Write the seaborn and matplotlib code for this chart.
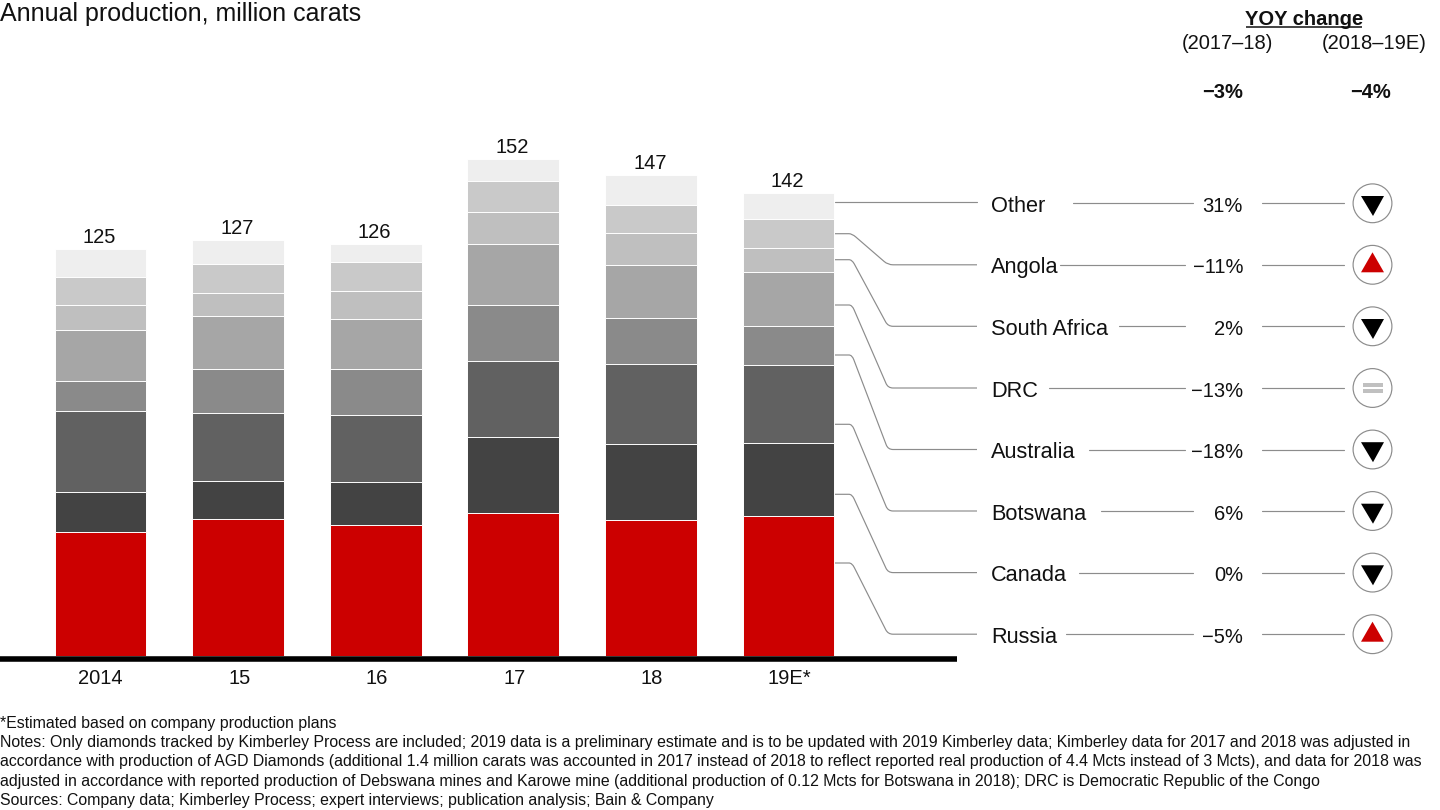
import matplotlib
matplotlib.use("Agg")
import matplotlib.pyplot as plt
from matplotlib.patches import Circle, Polygon, Rectangle, PathPatch
from matplotlib.path import Path
from matplotlib.transforms import ScaledTranslation
import numpy as np
import seaborn as sns

years = ["2014", "15", "16", "17", "18", "19E*"]
totals = [125, 127, 126, 152, 147, 142]
russia = [38.0, 41.8, 40.0, 43.7, 41.6, 42.6]
canada = [12.2, 11.7, 13.2, 23.4, 23.3, 22.6]
botswana = [24.7, 20.8, 20.5, 23.1, 24.4, 23.7]
australia = [9.3, 13.6, 14.0, 17.1, 14.0, 12.2]
drc = [15.6, 16.0, 15.5, 18.9, 16.5, 16.5]
south_africa = [7.5, 7.3, 8.4, 9.8, 9.8, 7.4]
angola = [8.7, 8.9, 8.9, 9.4, 8.5, 8.9]
other = [8.6, 7.1, 5.6, 6.7, 9.1, 7.9]

stack = [russia, canada, botswana, australia, drc, south_africa, angola, other]
stack_colors = ["#CC0000", "#434343", "#616161", "#8A8A8A", "#A6A6A6", "#BFBFBF", "#C9C9C9", "#EEEEEE"]

row_names = ["Other", "Angola", "South Africa", "DRC", "Australia", "Botswana", "Canada", "Russia"]
change_1718 = ["31%", "\u221211%", "2%", "\u221213%", "\u221218%", "6%", "0%", "\u22125%"]
trend_1819 = ["down", "up", "down", "flat", "down", "down", "down", "up"]

total_1718 = "\u22123%"
total_1819 = "\u22124%"

footnotes = [
    "*Estimated based on company production plans",
    "Notes: Only diamonds tracked by Kimberley Process are included; 2019 data is a preliminary estimate and is to be updated with 2019 Kimberley data; Kimberley data for 2017 and 2018 was adjusted in",
    "accordance with production of AGD Diamonds (additional 1.4 million carats was accounted in 2017 instead of 2018 to reflect reported real production of 4.4 Mcts instead of 3 Mcts), and data for 2018 was",
    "adjusted in accordance with reported production of Debswana mines and Karowe mine (additional production of 0.12 Mcts for Botswana in 2018); DRC is Democratic Republic of the Congo",
    "Sources: Company data; Kimberley Process; expert interviews; publication analysis; Bain & Company",
]

sns.set_theme(style="white")
plt.rcParams["font.family"] = ["Liberation Sans", "DejaVu Sans"]
plt.rcParams["text.color"] = "#111111"

W, H = 1440, 810
fig = plt.figure(figsize=(14.4, 8.1), dpi=100, facecolor="white")

px_per_unit = 3.263
axis_px = 658.8
zero_px = 655.5
ax = fig.add_axes([0, 1 - axis_px / H, 957 / W, axis_px / H])

cum = np.cumsum(np.array(stack), axis=0)
for level, color in reversed(list(zip(cum, stack_colors))):
    sns.barplot(x=years, y=level, color=color, saturation=1, width=0.668,
                edgecolor="white", linewidth=0.7, errorbar=None, ax=ax)

ax.set_xlim(-100.5 / 137.6, (957 - 100.5) / 137.6)
ax.set_ylim(-(axis_px - zero_px) / px_per_unit, zero_px / px_per_unit)
ax.set_ylabel("")
ax.set_yticks([])
for s in ["top", "left", "right"]:
    ax.spines[s].set_visible(False)
ax.spines["bottom"].set_linewidth(4.0)
ax.spines["bottom"].set_color("black")
ax.spines["bottom"].set_capstyle("butt")
ax.spines["bottom"].set_zorder(10)
ax.tick_params(axis="x", length=0, pad=7.5, labelsize=14.5)
ax.patch.set_alpha(0)
label_shift_px = [0, 1.5, 1, 1, 1, 0.5]
for lab, dx in zip(ax.get_xticklabels(), label_shift_px):
    lab.set_color("#111111")
    lab.set_transform(lab.get_transform() + ScaledTranslation(dx / 100, 0, fig.dpi_scale_trans))

for i, (t, top) in enumerate(zip(totals, cum[-1])):
    ax.annotate(str(t), xy=(i, top), xytext=(-0.8, 4.5), textcoords="offset points",
                ha="center", va="baseline", fontsize=14.5, color="#111111")

ov = fig.add_axes([0, 0, 1, 1])
ov.set_xlim(0, W)
ov.set_ylim(H, 0)
ov.axis("off")
ov.patch.set_alpha(0)

FS = 14.5
LINE = "#8C8C8C"
LW = 0.85

ov.text(0, 20.7, "Annual production, million carats", fontsize=18, ha="left", va="baseline")
ov.text(1304, 25, "YOY change", fontsize=FS, fontweight="bold", ha="center", va="baseline")
ov.plot([1246, 1362], [27, 27], color="#111111", lw=1.1, solid_capstyle="butt")
ov.text(1227, 49, "(2017\u201318)", fontsize=FS, ha="center", va="baseline")
ov.text(1374, 49, "(2018\u201319E)", fontsize=FS, ha="center", va="baseline")
ov.text(1243, 97.5, total_1718, fontsize=FS, fontweight="bold", ha="right", va="baseline")
ov.text(1391, 97.5, total_1819, fontsize=FS, fontweight="bold", ha="right", va="baseline")

row_y = [203.3, 264.8, 326.3, 388.0, 449.5, 511.0, 572.6, 634.2]
conn_start = [201.7, 233.7, 259.7, 305.0, 355.0, 424.3, 494.3, 563.0]
label_end = [1072, 1059, 1118, 1048, 1088, 1100, 1078, 1065]
value_start = [1193, 1185, 1185, 1185, 1185, 1193, 1193, 1193]

for k, name in enumerate(row_names):
    y = row_y[k]
    y0 = conn_start[k]
    if k == 0:
        ov.plot([835, 977], [y0, y0], color=LINE, lw=LW)
    else:
        dy = y - y0
        dx = 888 - 852
        t = 5 / np.hypot(dx, dy)
        verts = [(835, y0), (849, y0), (852, y0),
                 (852 + dx * t, y0 + dy * t),
                 (888 - dx * t, y - dy * t), (888, y), (893, y), (977, y)]
        codes = [Path.MOVETO, Path.LINETO, Path.CURVE3, Path.CURVE3,
                 Path.LINETO, Path.CURVE3, Path.CURVE3, Path.LINETO]
        ov.add_patch(PathPatch(Path(verts, codes), fc="none", ec=LINE, lw=LW))
    ov.text(991, y + 8.6, name, fontsize=15.7, ha="left", va="baseline")
    ov.plot([label_end[k] + 1, value_start[k]], [y, y], color=LINE, lw=LW)
    ov.text(1243, y + 8.6, change_1718[k], fontsize=FS, ha="right", va="baseline")
    ov.plot([1262, 1344], [y, y], color=LINE, lw=LW)
    cx = 1372.5
    ov.add_patch(Circle((cx, y), 19.4, fc="white", ec=LINE, lw=LW))
    if trend_1819[k] == "down":
        ov.add_patch(Polygon([(cx - 11.5, y - 7.3), (cx + 11.5, y - 7.3), (cx + 0.5, y + 12.7)], fc="black", ec="none"))
    elif trend_1819[k] == "up":
        ov.add_patch(Polygon([(cx - 11.5, y + 7.5), (cx + 11.5, y + 7.5), (cx, y - 12.5)], fc="#CC0000", ec="none"))
    else:
        ov.add_patch(Rectangle((cx - 10, y - 5), 20, 3.8, fc="#C0C0C0", ec="none"))
        ov.add_patch(Rectangle((cx - 10, y + 1.4), 20, 3.8, fc="#C0C0C0", ec="none"))

foot_y = [727.6, 746.9, 766.3, 785.6, 804.9]
for y, line in zip(foot_y, footnotes):
    ov.text(0, y, line, fontsize=11.47, ha="left", va="baseline")

fig.savefig("out.png", dpi=100, facecolor="white")
